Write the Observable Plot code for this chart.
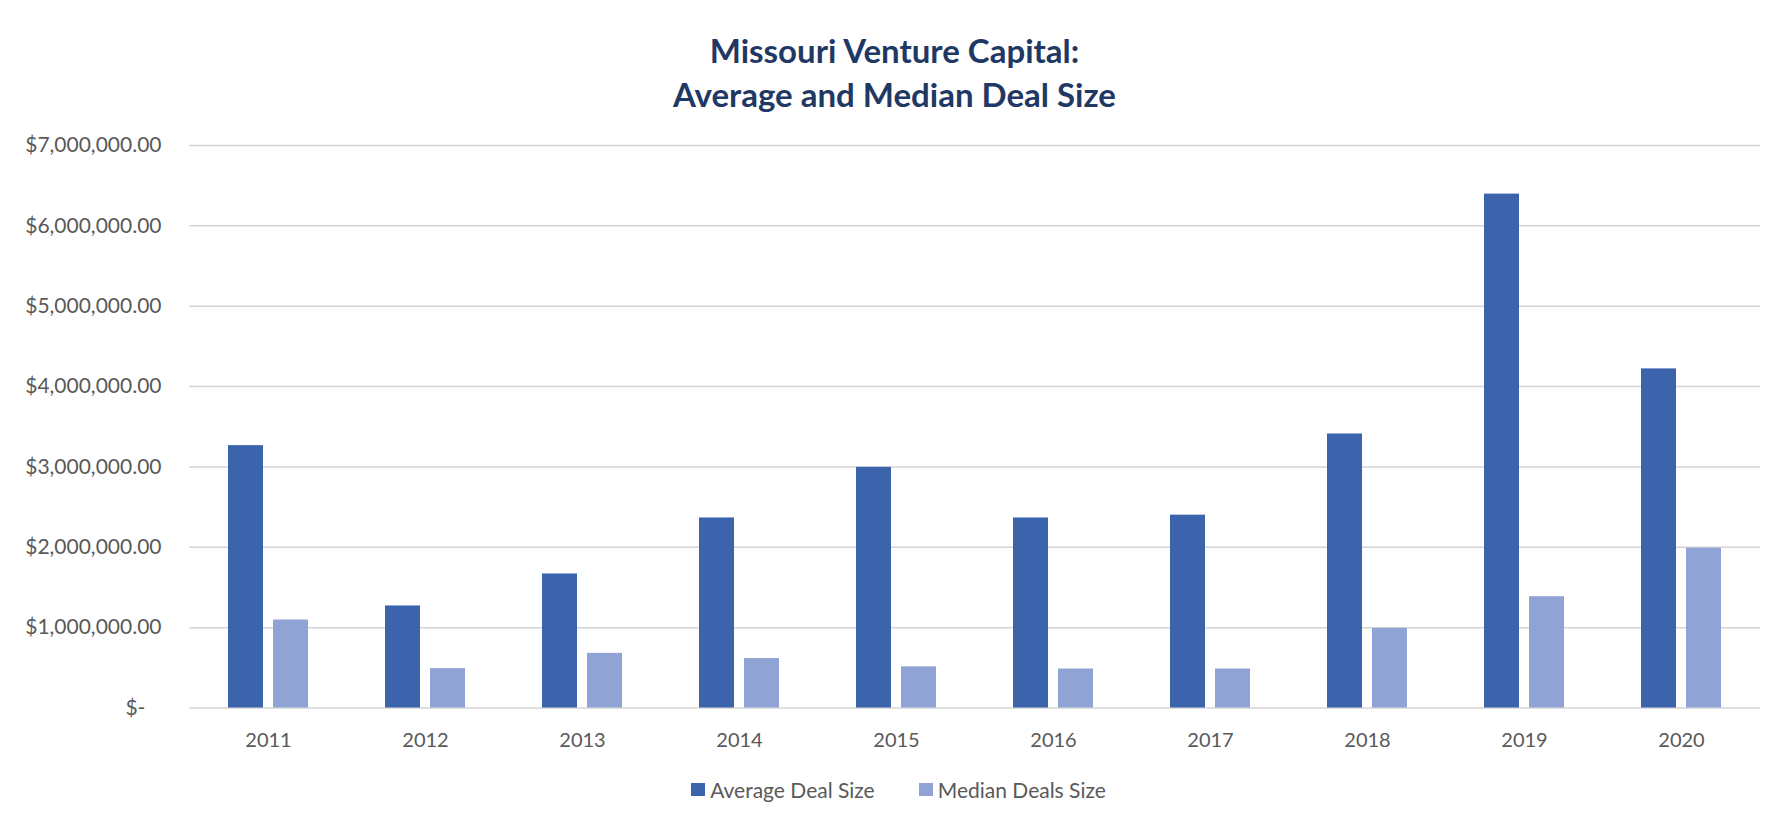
<!DOCTYPE html>
<html>
<head>
<meta charset="utf-8">
<script src="https://cdn.jsdelivr.net/npm/d3@7"></script>
<script src="https://cdn.jsdelivr.net/npm/@observablehq/plot@0.6"></script>
<style>
  html, body { margin: 0; padding: 0; background: #fff; }
  body { width: 1789px; font-family: Lato, "Open Sans", sans-serif; }
  #title { height: 120px; box-sizing: border-box; padding-top: 28px; text-align: center;
           font-weight: bold; font-size: 33px; line-height: 44px; color: #1F3864; }
  #chart svg { display: block; }
  #legend { margin-top: 4px; height: 40px; display: flex; justify-content: center; align-items: center;
            gap: 44px; font-size: 21px; color: #595959; padding-left: 8px; }
  #legend .item { display: flex; align-items: center; gap: 5px; }
  #legend .sw { width: 14px; height: 13px; display: inline-block; }
</style>
</head>
<body>
<div id="title">Missouri Venture Capital:<br>Average and Median Deal Size</div>
<div id="chart"></div>
<div id="legend"></div>
<script>
const years = ["2011","2012","2013","2014","2015","2016","2017","2018","2019","2020"];
const averageDealSize = [3265000, 1270000, 1668000, 2365000, 2995000, 2365000, 2400000, 3410000, 6395000, 4220000];
const medianDealsSize = [1095000, 490000, 680000, 615000, 512000, 485000, 485000, 990000, 1385000, 1990000];
const seriesNames = ["Average Deal Size", "Median Deals Size"];
const seriesColors = ["#3B64AD", "#8FA3D4"];
const yTicks = [0, 1000000, 2000000, 3000000, 4000000, 5000000, 6000000, 7000000];

const avgRows = years.map((y, i) => ({year: y, value: averageDealSize[i]}));
const medRows = years.map((y, i) => ({year: y, value: medianDealsSize[i]}));

const money = d3.format("$,.2f");
const fmt = d => d === 0 ? "$-\u00a0\u00a0\u00a0" : money(d);

const chart = Plot.plot({
  width: 1789,
  height: 645,
  marginLeft: 189,
  marginRight: 29,
  marginTop: 25,
  marginBottom: 57.5,
  style: {fontFamily: "Lato, 'Open Sans', sans-serif", fontSize: "20px", color: "#595959", background: "#fff"},
  x: {domain: years, paddingInner: 0.491, paddingOuter: 0.2455, label: null},
  y: {domain: [0, 7000000], label: null},
  marks: [
    Plot.gridY(yTicks, {stroke: "#d4d4d4", strokeOpacity: 1, strokeWidth: 1.5}),
    Plot.barY(avgRows, {x: "year", y: "value", fill: seriesColors[0], insetRight: 45}),
    Plot.barY(medRows, {x: "year", y: "value", fill: seriesColors[1], insetLeft: 45}),
    Plot.axisY(yTicks, {tickSize: 0, tickPadding: 28, tickFormat: fmt, fontSize: 21, label: null}),
    Plot.axisX({tickSize: 0, tickPadding: 24.5, fontSize: 20, label: null})
  ]
});
document.getElementById("chart").appendChild(chart);

const legend = document.getElementById("legend");
seriesNames.forEach((name, i) => {
  const item = document.createElement("span");
  item.className = "item";
  const sw = document.createElement("span");
  sw.className = "sw";
  sw.style.background = seriesColors[i];
  const label = document.createElement("span");
  label.textContent = name;
  item.appendChild(sw);
  item.appendChild(label);
  legend.appendChild(item);
});
</script>
</body>
</html>
